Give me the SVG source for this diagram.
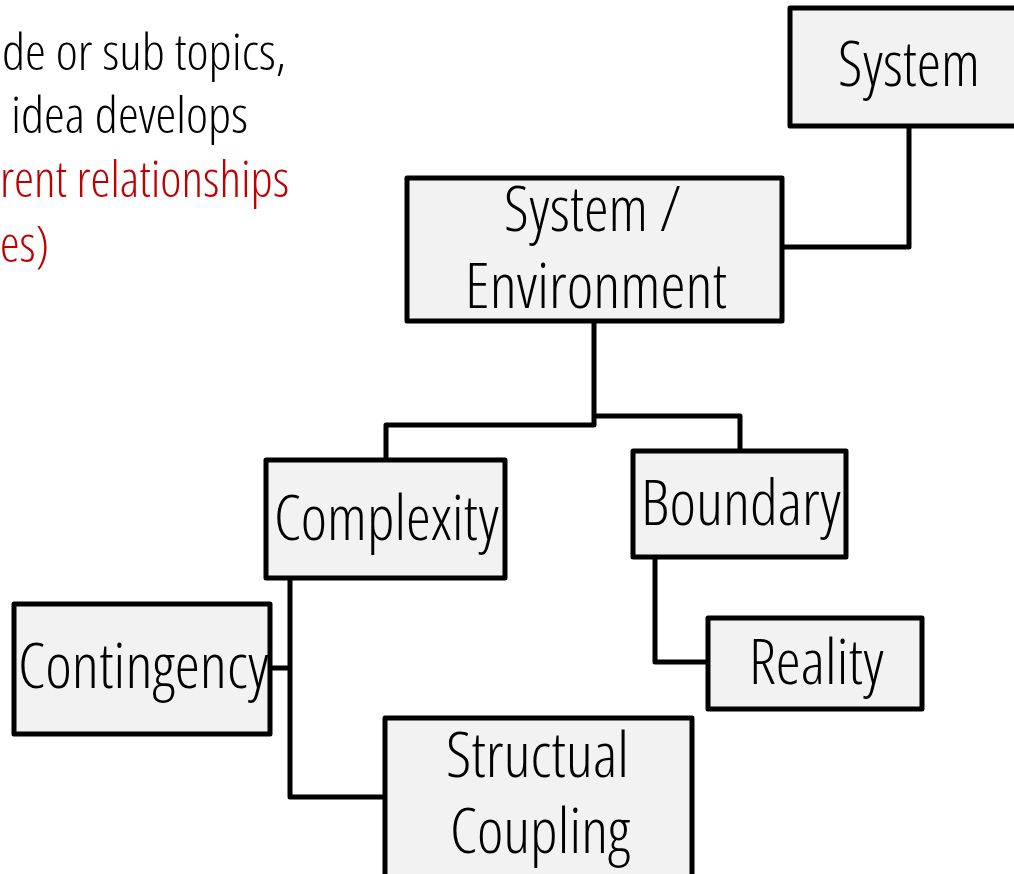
<svg xmlns="http://www.w3.org/2000/svg" width="1014" height="874" viewBox="0 0 1014 874">
<style>
.box{fill:#F2F2F2;stroke:#000;stroke-width:5;stroke-linejoin:round}
.lbl{font-family:"Open Sans","Liberation Sans",sans-serif;font-weight:300;font-stretch:condensed;font-size:62px;fill:#000}
.note{font-family:"Open Sans","Liberation Sans",sans-serif;font-weight:300;font-stretch:condensed;font-size:50px}
.conn{fill:none;stroke:#000;stroke-width:5;stroke-linejoin:round}
</style>
<rect width="1014" height="874" fill="#fff"/>
<g id="notes">
<text class="note" x="2" y="70" fill="#000" textLength="284" lengthAdjust="spacingAndGlyphs">de or sub topics,</text>
<text class="note" x="11" y="133" fill="#000" textLength="237" lengthAdjust="spacingAndGlyphs">idea develops</text>
<text class="note" x="0" y="197" fill="#C00000" textLength="289" lengthAdjust="spacingAndGlyphs">rent relationships</text>
<text class="note" x="0" y="262" fill="#C00000" textLength="49" lengthAdjust="spacingAndGlyphs">es)</text>
</g>
<g id="connectors">
<path class="conn" d="M909,125 V247 H782"/>
<path class="conn" d="M594,321 V425 H386 V460"/>
<path class="conn" d="M594,416 H740 V451"/>
<path class="conn" d="M290,578 V797 H385"/>
<path class="conn" d="M270,668 H290"/>
<path class="conn" d="M655,557 V662 H708"/>
</g>
<g id="node-system">
<rect class="box" x="790" y="8" width="240" height="118"/>
<text class="lbl" x="838" y="86" textLength="142" lengthAdjust="spacingAndGlyphs">System</text>
</g>
<g id="node-system-environment">
<rect class="box" x="407" y="178" width="375" height="143"/>
<text class="lbl" x="504" y="231" textLength="177" lengthAdjust="spacingAndGlyphs">System /</text>
<text class="lbl" x="465" y="308" textLength="262" lengthAdjust="spacingAndGlyphs">Environment</text>
</g>
<g id="node-complexity">
<rect class="box" x="266" y="460" width="239" height="118"/>
<text class="lbl" x="274" y="540" textLength="225" lengthAdjust="spacingAndGlyphs">Complexity</text>
</g>
<g id="node-boundary">
<rect class="box" x="633" y="451" width="213" height="106"/>
<text class="lbl" x="641" y="525" textLength="200" lengthAdjust="spacingAndGlyphs">Boundary</text>
</g>
<g id="node-contingency">
<rect class="box" x="14" y="604" width="256" height="130"/>
<text class="lbl" x="18" y="688" textLength="251" lengthAdjust="spacingAndGlyphs">Contingency</text>
</g>
<g id="node-reality">
<rect class="box" x="708" y="618" width="214" height="91"/>
<text class="lbl" x="749" y="684" textLength="135" lengthAdjust="spacingAndGlyphs">Reality</text>
</g>
<g id="node-structural-coupling">
<rect class="box" x="385" y="718" width="307" height="160"/>
<text class="lbl" x="446" y="777" textLength="183" lengthAdjust="spacingAndGlyphs">Structual</text>
<text class="lbl" x="450" y="853" textLength="180" lengthAdjust="spacingAndGlyphs">Coupling</text>
</g>
</svg>
